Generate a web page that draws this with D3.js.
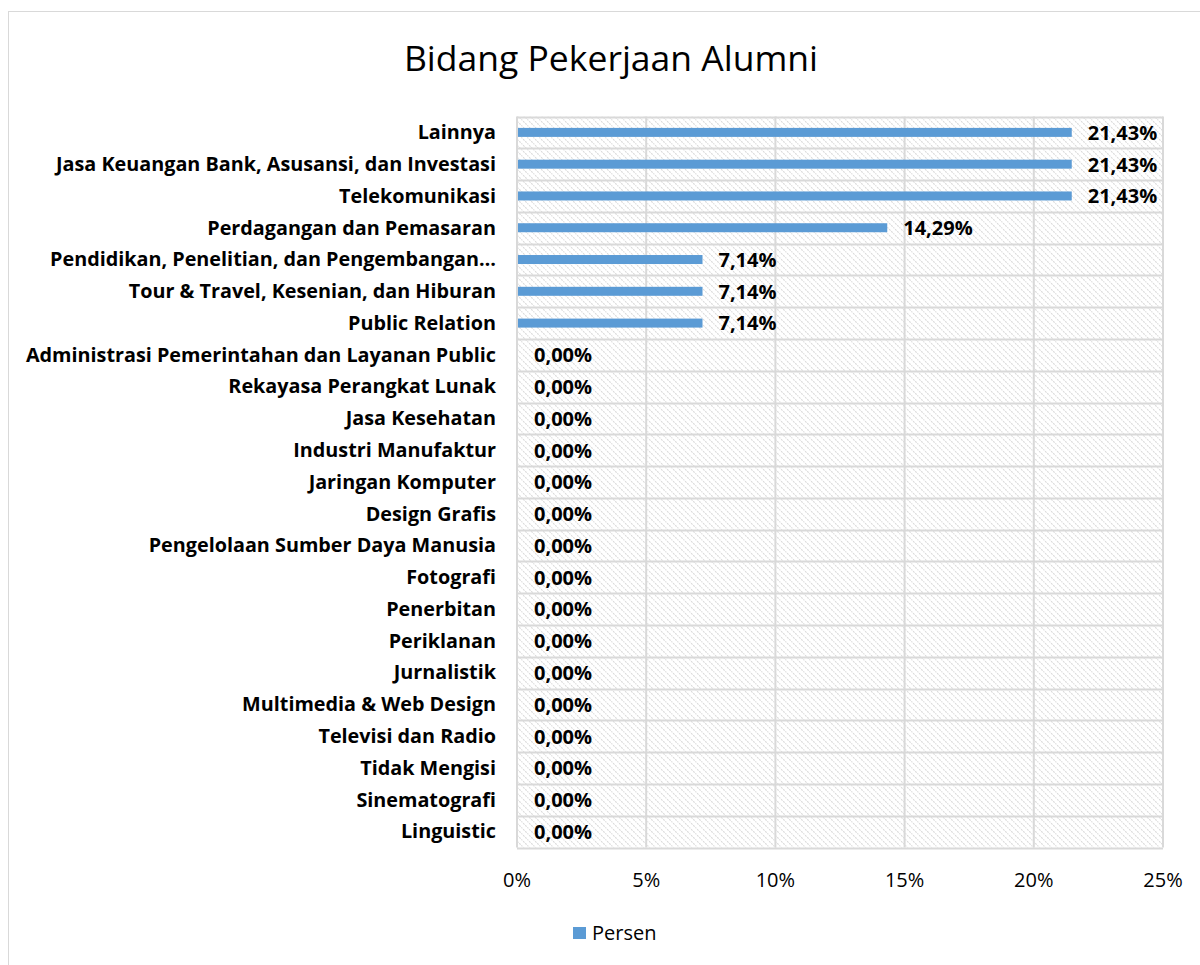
<!DOCTYPE html>
<html>
<head>
<meta charset="utf-8">
<script src="https://cdn.jsdelivr.net/npm/d3@7"></script>
<style>
  body { margin: 0; background: #fff; }
</style>
</head>
<body>
<div id="chart"></div>
<script>
// chart data
var categories = [
  "Lainnya",
  "Jasa Keuangan Bank, Asusansi, dan Investasi",
  "Telekomunikasi",
  "Perdagangan dan Pemasaran",
  "Pendidikan, Penelitian, dan Pengembangan…",
  "Tour & Travel, Kesenian, dan Hiburan",
  "Public Relation",
  "Administrasi Pemerintahan dan Layanan Public",
  "Rekayasa Perangkat Lunak",
  "Jasa Kesehatan",
  "Industri Manufaktur",
  "Jaringan Komputer",
  "Design Grafis",
  "Pengelolaan Sumber Daya Manusia",
  "Fotografi",
  "Penerbitan",
  "Periklanan",
  "Jurnalistik",
  "Multimedia & Web Design",
  "Televisi dan Radio",
  "Tidak Mengisi",
  "Sinematografi",
  "Linguistic"
];
var persen = [21.43, 21.43, 21.43, 14.29, 7.14, 7.14, 7.14,
  0, 0, 0, 0, 0, 0, 0, 0, 0, 0, 0, 0, 0, 0, 0, 0];
var xTicks = [0, 5, 10, 15, 20, 25];
var seriesName = "Persen";
var title = "Bidang Pekerjaan Alumni";

var width = 1200, height = 965;
var plotLeft = 517, plotRight = 1163, plotTop = 116.5, plotBottom = 847.5;
var font = "'Open Sans', 'Noto Sans', sans-serif";
var barColor = "#5b9bd5";
var gridColor = "#d9d9d9";

var svg = d3.select('#chart')
  .append('svg')
  .attr('width', width)
  .attr('height', height);

// hatch pattern for plot background
var pat = svg.append('defs').append('pattern')
  .attr('id', 'hatch')
  .attr('patternUnits', 'userSpaceOnUse')
  .attr('width', 6)
  .attr('height', 6);
pat.append('path')
  .attr('d', 'M-1,-1 L7,7 M-1,5 L1,7 M5,-1 L7,1')
  .attr('stroke', '#dadada')
  .attr('stroke-width', 1.1)
  .attr('stroke-dasharray', '2,1');

// chart frame
svg.append('rect')
  .attr('x', 8.5).attr('y', 11.5)
  .attr('width', 1200).attr('height', 1000)
  .attr('fill', '#fff')
  .attr('stroke', gridColor);

var x = d3.scaleLinear()
  .domain([0, 25])
  .range([plotLeft, plotRight]);

var y = d3.scaleBand()
  .domain(categories)
  .range([plotTop, plotBottom]);

svg.append('rect')
  .attr('x', plotLeft).attr('y', plotTop)
  .attr('width', plotRight - plotLeft).attr('height', plotBottom - plotTop)
  .attr('fill', 'url(#hatch)');

// horizontal grid between rows
var g = svg.append('g');
g.selectAll('.hline')
  .data(d3.range(categories.length + 1))
  .enter().append('line')
  .attr('x1', plotLeft).attr('x2', plotRight)
  .attr('y1', i => Math.round(plotTop + i * y.step()) + 0.5)
  .attr('y2', i => Math.round(plotTop + i * y.step()) + 0.5)
  .attr('stroke', gridColor)
  .attr('stroke-width', 2);

// vertical grid lines
g.selectAll('.vline')
  .data(xTicks)
  .enter().append('line')
  .attr('x1', d => x(d)).attr('x2', d => x(d))
  .attr('y1', plotTop).attr('y2', plotBottom)
  .attr('stroke', gridColor)
  .attr('stroke-width', 2);

// bars
var barH = 9;
svg.selectAll('.bar')
  .data(persen)
  .enter().append('rect')
  .attr('x', x(0) + 1)
  .attr('y', (d, i) => y(categories[i]) + y.bandwidth() / 2 - barH / 2)
  .attr('width', d => Math.max(0, x(d) - x(0)))
  .attr('height', barH)
  .attr('fill', barColor);

// data labels
svg.selectAll('.val')
  .data(persen)
  .enter().append('text')
  .attr('x', d => x(d) + 17)
  .attr('y', (d, i) => y(categories[i]) + y.bandwidth() / 2 + 2)
  .attr('dominant-baseline', 'middle')
  .style('font-family', font)
  .style('font-weight', 'bold')
  .style('font-size', '20px')
  .style('fill', '#000')
  .text(d => d.toFixed(2).replace('.', ',') + '%');

// category labels
svg.selectAll('.cat')
  .data(categories)
  .enter().append('text')
  .attr('x', 496)
  .attr('y', d => y(d) + y.bandwidth() / 2 + 1.5)
  .attr('text-anchor', 'end')
  .attr('dominant-baseline', 'middle')
  .style('font-family', font)
  .style('font-weight', 'bold')
  .style('font-size', '19.8px')
  .style('fill', '#000')
  .text(d => d);

// x axis labels
svg.selectAll('.tick')
  .data(xTicks)
  .enter().append('text')
  .attr('x', d => x(d))
  .attr('y', 882)
  .attr('text-anchor', 'middle')
  .attr('dominant-baseline', 'middle')
  .style('font-family', font)
  .style('font-size', '20px')
  .style('fill', '#000')
  .text(d => d + '%');

// title
svg.append('text')
  .attr('x', 611)
  .attr('y', 61)
  .attr('text-anchor', 'middle')
  .attr('dominant-baseline', 'middle')
  .style('font-family', font)
  .style('font-size', '35.5px')
  .style('fill', '#000')
  .text(title);

// legend
svg.append('rect')
  .attr('x', 573).attr('y', 927)
  .attr('width', 13).attr('height', 12)
  .attr('fill', barColor);
svg.append('text')
  .attr('x', 592)
  .attr('y', 934.5)
  .attr('dominant-baseline', 'middle')
  .style('font-family', font)
  .style('font-size', '20px')
  .style('fill', '#000')
  .text(seriesName);
</script>
</body>
</html>
